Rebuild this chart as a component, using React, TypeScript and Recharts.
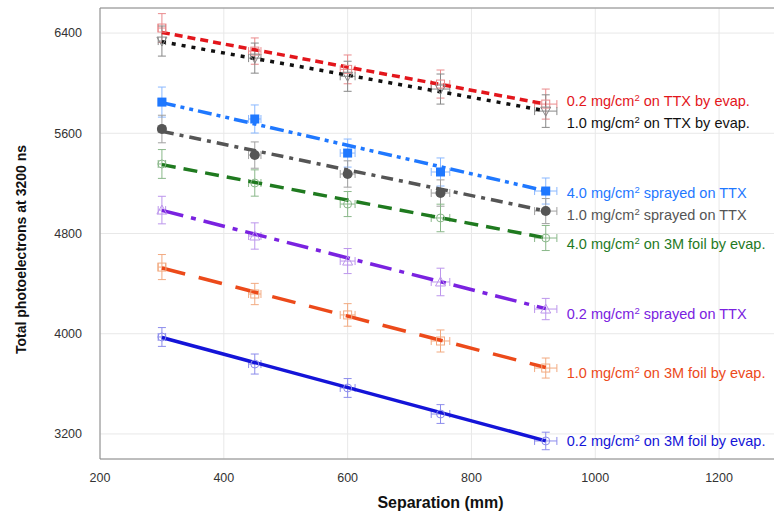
import React from 'react';
import {
  ComposedChart,
  Line,
  Scatter,
  XAxis,
  YAxis,
  CartesianGrid,
  ErrorBar,
  LabelList,
} from 'recharts';

// measured separations (mm) and their horizontal uncertainty
const separation = [300, 450, 600, 750, 920];
const separationErr = [6, 10, 12, 15, 18];
// straight-line fits are drawn between these separations
const fitRange = [300, 920];

const ttxEvap02 = [6440, 6256, 6110, 5993, 5833];
const ttxEvap02Err = [115, 105, 115, 112, 120];
const ttxEvap02Fit = [6405, 5833];

const ttxEvap10 = [6336, 6200, 6055, 5953, 5777];
const ttxEvap10Err = [120, 120, 120, 120, 130];
const ttxEvap10Fit = [6330, 5780];

const spray40 = [5849, 5714, 5442, 5291, 5139];
const spray40Err = [120, 112, 112, 112, 104];
const spray40Fit = [5845, 5140];

const spray10 = [5634, 5426, 5275, 5123, 4979];
const spray10Err = [110, 105, 105, 105, 100];
const spray10Fit = [5615, 4980];

const foilEvap40 = [5355, 5203, 5035, 4924, 4764];
const foilEvap40Err = [115, 105, 100, 110, 100];
const foilEvap40Fit = [5350, 4765];

const spray02 = [4987, 4780, 4580, 4413, 4197];
const spray02Err = [110, 105, 100, 110, 85];
const spray02Fit = [4985, 4200];

const foilEvap10 = [4532, 4317, 4150, 3942, 3726];
const foilEvap10Err = [100, 85, 90, 88, 80];
const foilEvap10Fit = [4525, 3730];

const foilEvap02 = [3974, 3758, 3567, 3359, 3144];
const foilEvap02Err = [75, 80, 75, 75, 70];
const foilEvap02Fit = [3970, 3145];

const xTicks = [200, 400, 600, 800, 1000, 1200];
const yTicks = [3200, 4000, 4800, 5600, 6400];

type Marker = 'squareOpen' | 'triDownOpen' | 'squareFilled' | 'circleFilled' | 'circleOpen' | 'triOpen';

type Series = {
  key: string;
  values: number[];
  errors: number[];
  fit: number[];
  prefix: string;
  suffix: string;
  color: string;
  barColor: string;
  dash?: string;
  marker: Marker;
  dy: number;
};

const series: Series[] = [
  { key: 'ttxEvap02', values: ttxEvap02, errors: ttxEvap02Err, fit: ttxEvap02Fit, prefix: '0.2 mg/cm', suffix: ' on TTX by evap.', color: '#e3161c', barColor: '#ea8a8c', dash: '8 5', marker: 'squareOpen', dy: -3 },
  { key: 'ttxEvap10', values: ttxEvap10, errors: ttxEvap10Err, fit: ttxEvap10Fit, prefix: '1.0 mg/cm', suffix: ' on TTX by evap.', color: '#111111', barColor: '#888888', dash: '4 6', marker: 'triDownOpen', dy: 12 },
  { key: 'spray40', values: spray40, errors: spray40Err, fit: spray40Fit, prefix: '4.0 mg/cm', suffix: ' sprayed on TTX', color: '#1f78ff', barColor: '#8ab8ff', dash: '14 5 4 5 4 5', marker: 'squareFilled', dy: 2 },
  { key: 'spray10', values: spray10, errors: spray10Err, fit: spray10Fit, prefix: '1.0 mg/cm', suffix: ' sprayed on TTX', color: '#555555', barColor: '#a0a0a0', dash: '12 6 4 6', marker: 'circleFilled', dy: 4 },
  { key: 'foilEvap40', values: foilEvap40, errors: foilEvap40Err, fit: foilEvap40Fit, prefix: '4.0 mg/cm', suffix: ' on 3M foil by evap.', color: '#1f7a1f', barColor: '#8ab88a', dash: '14 8', marker: 'circleOpen', dy: 6 },
  { key: 'spray02', values: spray02, errors: spray02Err, fit: spray02Fit, prefix: '0.2 mg/cm', suffix: ' sprayed on TTX', color: '#7a22e0', barColor: '#bc96ec', dash: '22 8 5 8', marker: 'triOpen', dy: 5 },
  { key: 'foilEvap10', values: foilEvap10, errors: foilEvap10Err, fit: foilEvap10Fit, prefix: '1.0 mg/cm', suffix: ' on 3M foil by evap.', color: '#ec4a1a', barColor: '#f2aa80', dash: '24 14', marker: 'squareOpen', dy: 5 },
  { key: 'foilEvap02', values: foilEvap02, errors: foilEvap02Err, fit: foilEvap02Fit, prefix: '0.2 mg/cm', suffix: ' on 3M foil by evap.', color: '#1414d8', barColor: '#8c8cec', marker: 'circleOpen', dy: 0 },
];

const FONT = '"Liberation Sans", Arial, Helvetica, sans-serif';

const markerShape = (s: Series) => (props: any) => {
  const { cx, cy } = props;
  if (cx == null || cy == null) return null;
  const c = s.barColor;
  switch (s.marker) {
    case 'squareOpen':
      return <rect x={cx - 4} y={cy - 4} width={8} height={8} fill="none" stroke={c} strokeWidth={1} />;
    case 'squareFilled':
      return <rect x={cx - 4.5} y={cy - 4.5} width={9} height={9} fill={s.color} />;
    case 'circleFilled':
      return <circle cx={cx} cy={cy} r={5} fill={s.color} />;
    case 'circleOpen':
      return <circle cx={cx} cy={cy} r={4} fill="none" stroke={c} strokeWidth={1} />;
    case 'triDownOpen':
      return <path d={`M${cx - 5},${cy - 4} L${cx + 5},${cy - 4} L${cx},${cy + 5} Z`} fill="none" stroke={c} strokeWidth={1} />;
    case 'triOpen':
    default:
      return <path d={`M${cx - 5},${cy + 4} L${cx + 5},${cy + 4} L${cx},${cy - 5} Z`} fill="none" stroke={c} strokeWidth={1} />;
  }
};

const seriesLabel = (s: Series) => (props: any) => {
  const { x, y, index } = props;
  if (index !== s.fit.length - 1) return null;
  return (
    <text x={x + 21} y={y + s.dy + 5} fill={s.color} fontSize={14.5} fontFamily={FONT}>
      <tspan>{s.prefix}</tspan>
      <tspan dy={-5} fontSize={9.5}>2</tspan>
      <tspan dy={5}>{s.suffix}</tspan>
    </text>
  );
};

export default function App() {
  return (
    <div style={{ position: 'absolute', left: 0, top: 0, width: 774, height: 520, overflow: 'hidden', background: '#fff' }}>
      <ComposedChart
        width={790}
        height={520}
        margin={{ top: 8, right: 9, bottom: 0, left: 0 }}
        style={{ fontFamily: FONT }}
      >
        <CartesianGrid xAxisId="x" yAxisId="y" stroke="#e8e8e8" />
        <XAxis
          xAxisId="x"
          dataKey="x"
          type="number"
          domain={[200, 1300]}
          ticks={xTicks}
          allowDataOverflow
          height={61}
          axisLine={{ stroke: '#888' }}
          tickLine={false}
          tickSize={0}
          tickMargin={14}
          tick={{ fill: '#333', fontSize: 12.5 }}
          label={{
            content: (p: any) => (
              <text
                x={p.viewBox.x + p.viewBox.width / 2}
                y={p.viewBox.y + 49}
                textAnchor="middle"
                fontSize={16}
                fontWeight="bold"
                fill="#111"
              >
                Separation (mm)
              </text>
            ),
          }}
        />
        <XAxis xAxisId="xb" type="number" orientation="bottom" mirror domain={[200, 1300]} ticks={xTicks} allowDataOverflow tick={false} tickSize={8} tickLine={{ stroke: '#888' }} axisLine={false} />
        <XAxis xAxisId="xt" type="number" orientation="top" mirror domain={[200, 1300]} ticks={xTicks} allowDataOverflow tick={false} tickSize={8} tickLine={{ stroke: '#888' }} axisLine={{ stroke: '#888' }} />
        <YAxis
          yAxisId="y"
          type="number"
          domain={[3000, 6600]}
          ticks={yTicks}
          allowDataOverflow
          width={100}
          axisLine={{ stroke: '#888' }}
          tickLine={false}
          tickSize={0}
          tickMargin={18}
          tick={{ fill: '#333', fontSize: 12.5 }}
          label={{
            content: (p: any) => {
              const cx = 21;
              const cy = p.viewBox.y + p.viewBox.height / 2 + 16;
              return (
                <text
                  x={cx}
                  y={cy}
                  transform={`rotate(-90 ${cx} ${cy})`}
                  textAnchor="middle"
                  dominantBaseline="central"
                  fontSize={14}
                  fontWeight="bold"
                  fill="#111"
                >
                  Total photoelectrons at 3200 ns
                </text>
              );
            },
          }}
        />
        <YAxis yAxisId="yl" type="number" orientation="left" mirror domain={[3000, 6600]} ticks={yTicks} allowDataOverflow tick={false} tickSize={8} tickLine={{ stroke: '#888' }} axisLine={false} />
        <YAxis yAxisId="yr" type="number" orientation="right" mirror domain={[3000, 6600]} ticks={yTicks} allowDataOverflow tick={false} tickSize={8} tickLine={{ stroke: '#888' }} axisLine={{ stroke: '#888' }} />

        {series.map((s) => (
          <Scatter
            key={`${s.key}-pts`}
            xAxisId="x"
            yAxisId="y"
            data={separation.map((x, i) => ({ x, y: s.values[i], ex: separationErr[i], ey: s.errors[i] }))}
            dataKey="y"
            shape={markerShape(s)}
            isAnimationActive={false}
          >
            <ErrorBar dataKey="ey" direction="y" width={4} stroke={s.barColor} strokeWidth={1} />
            <ErrorBar dataKey="ex" direction="x" width={4} stroke={s.barColor} strokeWidth={1} />
          </Scatter>
        ))}

        {series.map((s) => (
          <Line
            key={`${s.key}-fit`}
            xAxisId="x"
            yAxisId="y"
            data={fitRange.map((x, i) => ({ x, y: s.fit[i] }))}
            dataKey="y"
            type="linear"
            stroke={s.color}
            strokeWidth={3.5}
            strokeDasharray={s.dash}
            dot={false}
            activeDot={false}
            isAnimationActive={false}
          >
            <LabelList dataKey="y" content={seriesLabel(s)} />
          </Line>
        ))}
      </ComposedChart>
    </div>
  );
}
